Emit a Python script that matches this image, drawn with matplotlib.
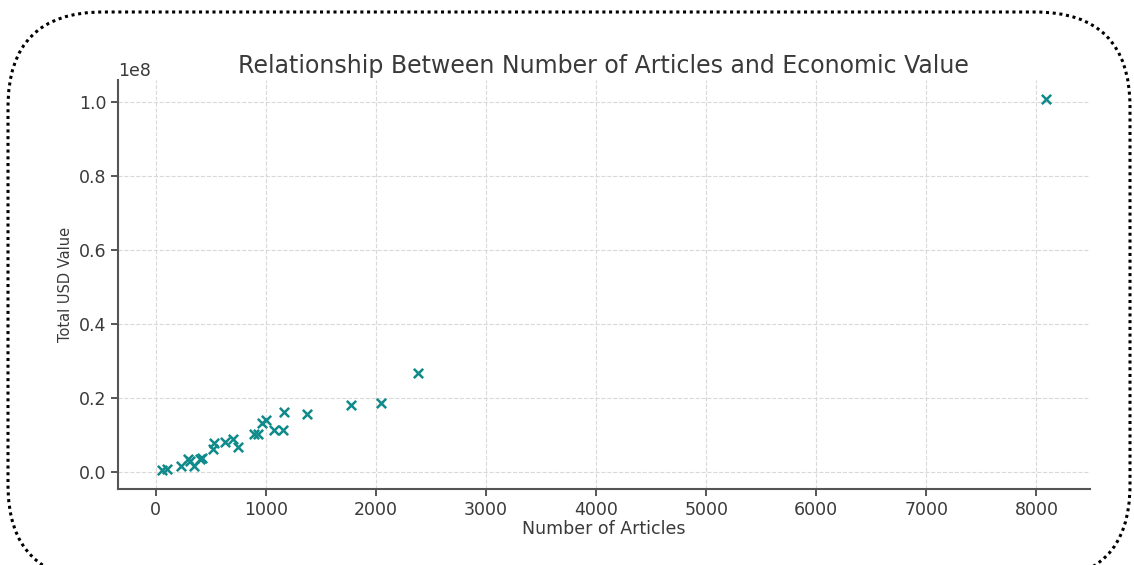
import numpy as np
import matplotlib
matplotlib.use("Agg")
import matplotlib.pyplot as plt
from matplotlib.patches import FancyBboxPatch

plt.rcParams['font.family'] = ['DejaVu Sans']

# data (USD values in millions)
articles = [57, 97, 227, 288, 310, 348, 400, 421, 521, 530, 627, 702, 748,
            890, 929, 960, 999, 1075, 1157, 1163, 1375, 1777, 2041, 2379, 8083]
usd_mil = [0.5, 0.7, 1.6, 3.4, 3.1, 1.5, 3.4, 3.7, 6.1, 7.9, 8.1, 9.0, 6.8,
           10.4, 10.2, 13.3, 14.0, 11.3, 11.5, 16.2, 15.8, 18.1, 18.7, 26.8, 101.0]
usd = np.array(usd_mil) * 1e6

txt = "#3a3a3a"

fig = plt.figure(figsize=(11.34, 5.65), dpi=100)
ax = fig.add_axes([0.104, 0.135, 0.857, 0.723])

ax.scatter(articles, usd, marker="x", color="#108a8a", s=45, linewidths=1.8, zorder=3)

ax.set_title("Relationship Between Number of Articles and Economic Value",
             fontsize=17, color=txt, pad=5)
ax.set_xlabel("Number of Articles", fontsize=12.5, color=txt, labelpad=1)
ax.set_ylabel("Total USD Value", fontsize=10.5, color=txt, labelpad=4)

ax.grid(True, linestyle="--", color="#d9d9d9", linewidth=0.8)
ax.set_axisbelow(True)
for s in ["top", "right"]:
    ax.spines[s].set_visible(False)
for s in ["left", "bottom"]:
    ax.spines[s].set_color("#555555")
    ax.spines[s].set_linewidth(1.5)
ax.tick_params(colors=txt, labelsize=12.5, width=1.2, length=5)
ax.yaxis.get_offset_text().set_fontsize(12.5)
ax.yaxis.get_offset_text().set_color(txt)

# dotted rounded frame around the picture
frame = FancyBboxPatch((0.08, -0.15), 11.22, 5.68,
                       boxstyle="round,pad=0,rounding_size=0.95",
                       transform=fig.dpi_scale_trans, fill=False,
                       edgecolor="black", linestyle=(0, (1, 1.2)), linewidth=2.2)
fig.patches.append(frame)

fig.savefig("out.png", dpi=100)
